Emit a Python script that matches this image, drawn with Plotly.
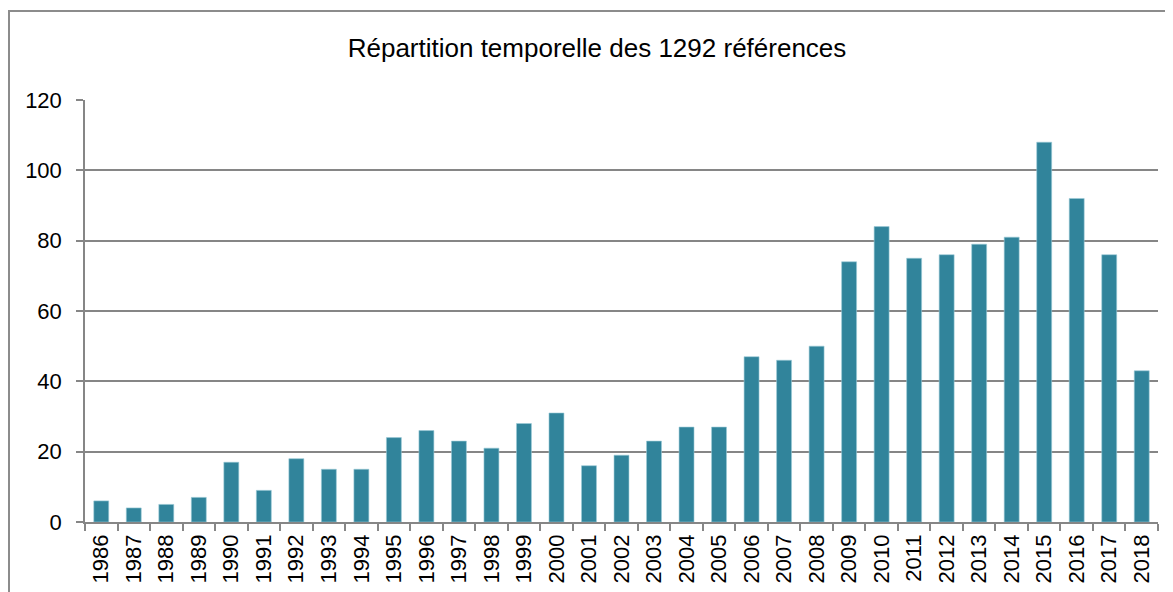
import plotly.graph_objects as go

years = [str(y) for y in range(1986, 2019)]
counts = [6, 4, 5, 7, 17, 9, 18, 15, 15, 24, 26, 23, 21, 28, 31, 16, 19, 23, 27, 27,
          47, 46, 50, 74, 84, 75, 76, 79, 81, 108, 92, 76, 43]
y_ticks = [0, 20, 40, 60, 80, 100, 120]
title_text = "Répartition temporelle des 1292 références"

FONT = "Liberation Sans, Arial, sans-serif"
GRID = "#868686"
BAR = "#31849B"

fig = go.Figure(go.Bar(
    x=years, y=counts,
    marker=dict(color=BAR, line=dict(color="#9ccbd6", width=0.6)),
))

# page is offset by the 8px body margin
W, H = 1173, 592
L, R, T, B = 77, 23, 92, 78
pw, ph = W - L - R, H - T - B

fig.update_layout(
    width=W, height=H,
    margin=dict(l=L, r=R, t=T, b=B),
    paper_bgcolor="white", plot_bgcolor="white",
    bargap=0.54,
    showlegend=False,
    font=dict(family=FONT, size=22, color="black"),
    title=dict(text=title_text, x=(589 - L) / pw, xref="paper", xanchor="center",
               y=1 - 40 / H, yanchor="middle",
               font=dict(family=FONT, size=26, color="black")),
    xaxis=dict(
        type="category", tickangle=-90, tickson="boundaries",
        ticks="outside", ticklen=7, tickcolor=GRID, tickwidth=1.5,
        showline=True, linecolor=GRID, linewidth=1.5,
        showgrid=False, tickfont=dict(size=22), ticklabelstandoff=2,
    ),
    yaxis=dict(
        range=[0, 120], tickvals=y_ticks, ticks="outside", ticklen=7,
        tickcolor=GRID, tickwidth=1.5,
        showline=True, linecolor=GRID, linewidth=1.5,
        showgrid=True, gridcolor=GRID, gridwidth=1.5,
        zeroline=False, tickfont=dict(size=22), ticklabelstandoff=10,
    ),
    shapes=[dict(
        type="rect", xref="paper", yref="paper",
        x0=(1 - L) / pw, x1=(W + 20 - L) / pw,
        y0=-(B + 20) / ph, y1=1 + (T - 3) / ph,
        line=dict(color="#8c8c8c", width=2), fillcolor="rgba(0,0,0,0)", layer="below",
    )],
)

fig.write_html("out.html")
